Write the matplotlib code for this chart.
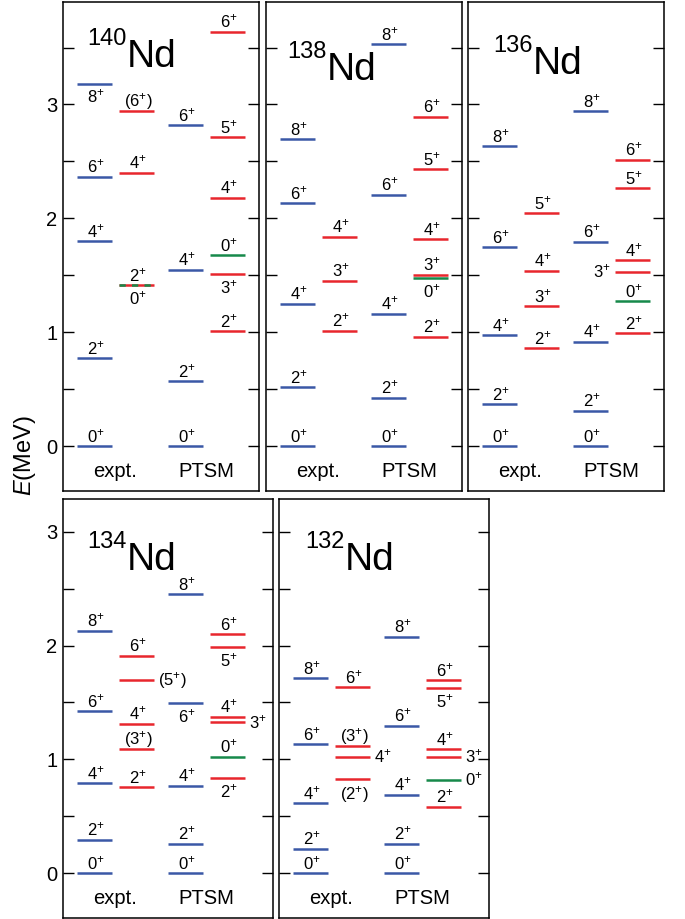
import matplotlib
matplotlib.use('Agg')
import matplotlib.pyplot as plt
import numpy as np

plt.rcParams['font.family'] = ['Liberation Sans', 'DejaVu Sans']
plt.rcParams['mathtext.fontset'] = 'custom'
plt.rcParams['mathtext.rm'] = 'Liberation Sans'
plt.rcParams['mathtext.it'] = 'Liberation Sans:italic'
plt.rcParams['mathtext.bf'] = 'Liberation Sans:bold'

# level schemes: (spin, energy in MeV); ground band / gamma band, expt. and PTSM
nd140_expt_g = [('0', 0.0), ('2', 0.770), ('4', 1.801), ('6', 2.364), ('8', 3.184)]
nd140_expt_x = [('2', 1.412), ('0', 1.412), ('4', 2.399), ('(6)', 2.944)]
nd140_ptsm_g = [('0', 0.0), ('2', 0.571), ('4', 1.550), ('6', 2.818)]
nd140_ptsm_x = [('2', 1.008), ('3', 1.511), ('0', 1.678), ('4', 2.182), ('5', 2.712), ('6', 3.638)]

nd138_expt_g = [('0', 0.0), ('2', 0.518), ('4', 1.248), ('6', 2.132), ('8', 2.695)]
nd138_expt_x = [('2', 1.011), ('3', 1.450), ('4', 1.839)]
nd138_ptsm_g = [('0', 0.0), ('2', 0.425), ('4', 1.160), ('6', 2.206), ('8', 3.530)]
nd138_ptsm_x = [('2', 0.961), ('0', 1.473), ('3', 1.506), ('4', 1.816), ('5', 2.431), ('6', 2.894)]

nd136_expt_g = [('0', 0.0), ('2', 0.369), ('4', 0.975), ('6', 1.746), ('8', 2.633)]
nd136_expt_x = [('2', 0.858), ('3', 1.230), ('4', 1.538), ('5', 2.045)]
nd136_ptsm_g = [('0', 0.0), ('2', 0.308), ('4', 0.914), ('6', 1.796), ('8', 2.941)]
nd136_ptsm_x = [('2', 0.993), ('0', 1.274), ('3', 1.532), ('4', 1.634), ('5', 2.264), ('6', 2.516)]

nd134_expt_g = [('0', 0.0), ('2', 0.296), ('4', 0.790), ('6', 1.422), ('8', 2.128)]
nd134_expt_x = [('2', 0.755), ('(3)', 1.092), ('4', 1.314), ('(5)', 1.697), ('6', 1.911)]
nd134_ptsm_g = [('0', 0.0), ('2', 0.260), ('4', 0.767), ('6', 1.498), ('8', 2.449)]
nd134_ptsm_x = [('2', 0.837), ('0', 1.024), ('3', 1.329), ('4', 1.375), ('5', 1.984), ('6', 2.101)]

nd132_expt_g = [('0', 0.0), ('2', 0.217), ('4', 0.615), ('6', 1.133), ('8', 1.712)]
nd132_expt_x = [('(2)', 0.825), ('4', 1.024), ('(3)', 1.121), ('6', 1.633)]
nd132_ptsm_g = [('0', 0.0), ('2', 0.258), ('4', 0.691), ('6', 1.296), ('8', 2.075)]
nd132_ptsm_x = [('2', 0.585), ('0', 0.822), ('3', 1.024), ('4', 1.089), ('5', 1.624), ('6', 1.697)]

masses = ['140', '138', '136', '134', '132']
columns = [
    [nd140_expt_g, nd140_expt_x, nd140_ptsm_g, nd140_ptsm_x],
    [nd138_expt_g, nd138_expt_x, nd138_ptsm_g, nd138_ptsm_x],
    [nd136_expt_g, nd136_expt_x, nd136_ptsm_g, nd136_ptsm_x],
    [nd134_expt_g, nd134_expt_x, nd134_ptsm_g, nd134_ptsm_x],
    [nd132_expt_g, nd132_expt_x, nd132_ptsm_g, nd132_ptsm_x],
]

# where a spin label goes if not above its level: (panel, column, spin) -> side
label_side = {
    (0, 0, '8'): 'below', (0, 1, '0'): 'below', (0, 3, '3'): 'below',
    (1, 3, '0'): 'below',
    (2, 3, '3'): 'left',
    (3, 1, '(5)'): 'right', (3, 2, '6'): 'below', (3, 3, '2'): 'below',
    (3, 3, '3'): 'right', (3, 3, '5'): 'below',
    (4, 1, '(2)'): 'below', (4, 1, '4'): 'right', (4, 3, '0'): 'right',
    (4, 3, '3'): 'right', (4, 3, '5'): 'below',
}

W, H = 685, 919
blue = '#3a58a6'
red = '#e8262d'
green = '#17894a'

# axes boxes in pixels: left, top, width, height, ylim
boxes = [
    (63, 2, 196, 489, (-0.395, 3.90)),
    (266, 2, 196, 489, (-0.395, 3.90)),
    (468, 2, 196, 489, (-0.395, 3.90)),
    (63, 499, 210, 419, (-0.392, 3.286)),
    (279, 499, 210, 419, (-0.392, 3.286)),
]
# left edge of "Nd" and its baseline, in data units
title_pos = [(1.83, 3.33), (1.74, 3.216), (1.86, 3.27), (1.83, 2.663), (1.89, 2.663)]
col_x = [0.4, 1.6, 3.0, 4.2]
col_w = 1.0


def spin_text(j):
    if j.startswith('('):
        return '(' + j[1:-1] + r'$^{+}$)'
    return j + r'$^{+}$'


fig = plt.figure(figsize=(W / 100, H / 100), dpi=100)

for p, (left, top, wid, hgt, ylim) in enumerate(boxes):
    ax = fig.add_axes([left / W, 1 - (top + hgt) / H, wid / W, hgt / H])
    ax.set_xlim(0, wid / 35)
    ax.set_ylim(*ylim)
    ax.set_xticks([])
    ymax = int(ylim[1])
    ax.set_yticks(np.arange(0, ymax + 1, 1.0))
    ax.set_yticks(np.arange(0.5, ylim[1], 1.0), minor=True)
    ax.tick_params(axis='y', which='both', direction='in', length=8, width=1,
                   left=True, right=True, labelsize=14.5, pad=4)
    if p not in (0, 3):
        ax.tick_params(axis='y', labelleft=False)
    for s in ax.spines.values():
        s.set_linewidth(1.1)

    for c, levels in enumerate(columns[p]):
        x0 = col_x[c]
        x1 = x0 + col_w
        xc = x0 + col_w / 2
        energies = [e for _, e in levels]
        for j, e in levels:
            if c in (0, 2):
                color = blue
            elif j == '0':
                color = green
            else:
                color = red
            if color == green and energies.count(e) > 1:
                ax.plot([x0, x1], [e, e], color=green, lw=1.8,
                        dashes=(2.5, 2.5), solid_capstyle='butt', zorder=3)
            else:
                ax.plot([x0, x1], [e, e], color=color, lw=1.8,
                        solid_capstyle='butt', zorder=2)
            side = label_side.get((p, c, j), 'above')
            txt = spin_text(j)
            if side == 'above':
                ax.annotate(txt, (xc, e), xytext=(1, 3), textcoords='offset points',
                            ha='center', va='baseline', fontsize=12)
            elif side == 'below':
                ax.annotate(txt, (xc, e), xytext=(1, -3), textcoords='offset points',
                            ha='center', va='top', fontsize=12)
            elif side == 'right':
                ax.annotate(txt, (x1, e), xytext=(3, 0), textcoords='offset points',
                            ha='left', va='center', fontsize=12)
            else:
                ax.annotate(txt, (x0, e), xytext=(-3, 0), textcoords='offset points',
                            ha='right', va='center', fontsize=12)

    # nucleus name with the mass number raised in front of it
    nd = ax.text(title_pos[p][0], title_pos[p][1], 'Nd',
                 fontsize=28, ha='left', va='baseline')
    ax.annotate(masses[p], xy=(0, 1), xycoords=nd, xytext=(-0.5, 8),
                textcoords='offset points', ha='right', va='top', fontsize=17)

    ax.text((col_x[0] + col_x[1] + col_w) / 2, -0.22, 'expt.',
            ha='center', va='center', fontsize=14.5)
    ax.text((col_x[2] + col_x[3] + col_w) / 2, -0.22, 'PTSM',
            ha='center', va='center', fontsize=14.5)

fig.text(25 / W, 1 - 456 / H, r'$E$(MeV)', rotation=90, ha='center', va='center',
         fontsize=17)

fig.savefig('out.png', dpi=100)
